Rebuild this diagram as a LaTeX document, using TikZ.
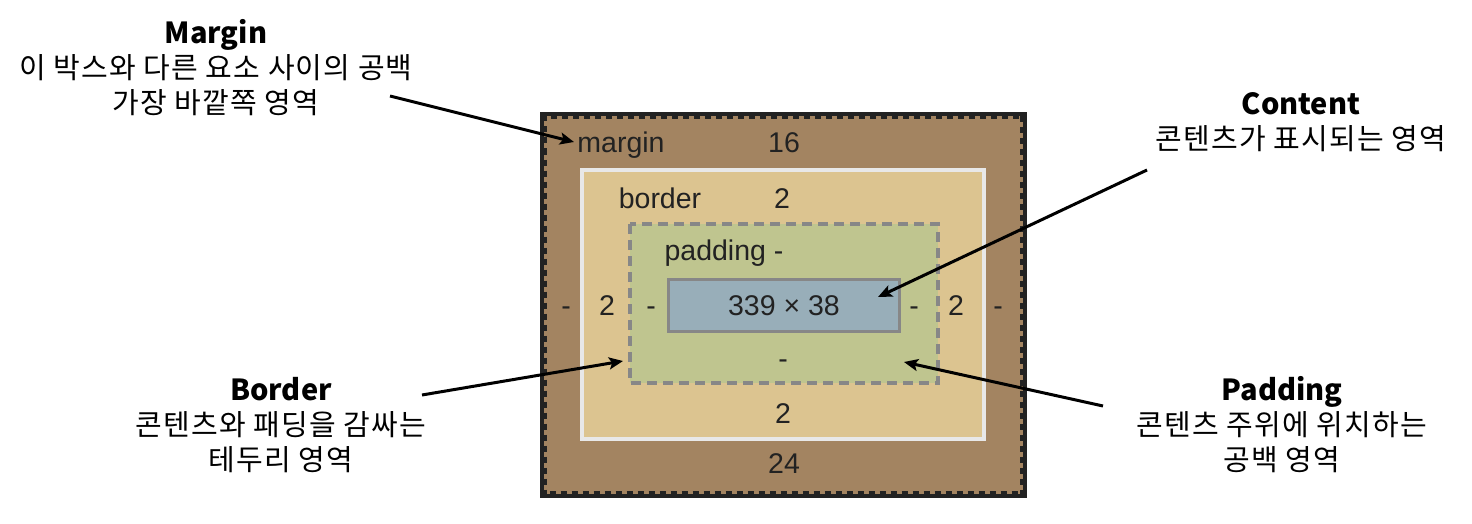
\documentclass[tikz,border=0pt]{standalone}
\usepackage{fontspec}
\setmainfont{Liberation Sans}
\newfontfamily\krfont[LetterSpace=4]{Noto Sans CJK KR}
\newfontfamily\krtitle{Noto Sans CJK KR}
\usetikzlibrary{arrows.meta}
\definecolor{marginfill}{HTML}{A38461}
\definecolor{borderfill}{HTML}{DCC490}
\definecolor{paddingfill}{HTML}{BFC58F}
\definecolor{contentfill}{HTML}{98AEB9}
\definecolor{edgegray}{HTML}{878787}
\definecolor{darkedge}{HTML}{222222}
\definecolor{lightedge}{HTML}{E8E8E8}
\definecolor{boxtext}{HTML}{222222}
\tikzset{
  boxlabel/.style={inner sep=0pt, anchor=base, text=boxtext, font=\fontsize{28.5}{32}\selectfont},
  note/.style={inner sep=0pt, align=center, text=black, font=\krfont\fontsize{29}{35}\selectfont},
  callout/.style={line width=3pt, draw=black, -{Stealth[length=14pt,width=12pt,inset=3pt]}},
}
\newcommand{\notetitle}[1]{{\krtitle\bfseries #1}}
\begin{document}
\begin{tikzpicture}[x=1pt,y=-1pt]
\useasboundingbox (0,0) rectangle (1472,524);
% margin box
\fill[marginfill] (540,112) rectangle (1027,498);
\draw[darkedge, line width=4pt] (542,114) rectangle (1025,496);
\draw[darkedge, line width=7pt, dash pattern=on 6pt off 5pt] (543.5,115.5) rectangle (1023.5,494.5);
% border box
\draw[lightedge, line width=4pt, fill=borderfill] (582,170) rectangle (984,439);
% padding box
\draw[edgegray, line width=4pt, dash pattern=on 10pt off 6pt, fill=paddingfill] (630,224) rectangle (938,383);
% content box
\draw[edgegray, line width=3.5pt, fill=contentfill] (668.5,279.5) rectangle (899.5,331.5);

% labels
\node[boxlabel] (marginlbl) at (621,153) {margin};
\node[boxlabel] (margintop) at (784,153) {16};
\node[boxlabel] (borderlbl) at (660,208) {border};
\node[boxlabel] (bordertop) at (782,208) {2};
\node[boxlabel] (paddinglbl) at (724,260) {padding -};
\node[boxlabel] (contentlbl) at (784,315) {339 × 38};
\node[boxlabel] (marginleft) at (566,315) {-};
\node[boxlabel] (borderleft) at (607,315) {2};
\node[boxlabel] (paddingleft) at (651,315) {-};
\node[boxlabel] (paddingright) at (914,315) {-};
\node[boxlabel] (borderright) at (956,315) {2};
\node[boxlabel] (marginright) at (998,315) {-};
\node[boxlabel] (paddingbottom) at (783,368) {-};
\node[boxlabel] (borderbottom) at (783,423) {2};
\node[boxlabel] (marginbottom) at (784,473) {24};

% annotations
\node[note] (marginnote) at (216,68) {\notetitle{Margin}\\이 박스와 다른 요소 사이의 공백\\가장 바깥쪽 영역};
\node[note] (contentnote) at (1301,122) {\notetitle{Content}\\콘텐츠가 표시되는 영역};
\node[note] (bordernote) at (281,425) {\notetitle{Border}\\콘텐츠와 패딩을 감싸는\\테두리 영역};
\node[note] (paddingnote) at (1282,425) {\notetitle{Padding}\\콘텐츠 주위에 위치하는\\공백 영역};

% arrow ends
\coordinate (ms) at (390,96);
\coordinate (me) at (574,142);
\coordinate (cs) at (1147,170);
\coordinate (ce) at (878,297);
\coordinate (bs) at (422,395);
\coordinate (be) at (623,361);
\coordinate (ps) at (1103,406);
\coordinate (pe) at (904,362);
\draw[callout] (ms) -- (me);
\draw[callout] (cs) -- (ce);
\draw[callout] (bs) -- (be);
\draw[callout] (ps) -- (pe);
\end{tikzpicture}
\end{document}
